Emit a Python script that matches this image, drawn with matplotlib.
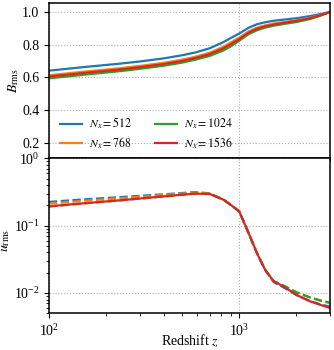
import matplotlib
matplotlib.use("Agg")
import matplotlib.pyplot as plt

plt.rcParams['font.family'] = ['Liberation Serif', 'DejaVu Serif']
plt.rcParams['mathtext.fontset'] = 'stix'
plt.rcParams['axes.linewidth'] = 1.1

labels = ["$N_x = 512$", "$N_x = 768$", "$N_x = 1024$", "$N_x = 1536$"]
colors = ["#1f77b4", "#ff7f0e", "#2ca02c", "#d62728"]

z = [100, 150, 236, 300, 400, 500, 587, 700, 827, 900, 1000, 1119, 1240,
     1370, 1517, 1711, 2012, 2364, 2700, 3000]

B_512 = [0.641, 0.662, 0.684, 0.697, 0.716, 0.735, 0.752, 0.778, 0.816, 0.840,
         0.868, 0.903, 0.925, 0.937, 0.946, 0.953, 0.962, 0.975, 0.988, 1.0]
B_768 = [0.613, 0.634, 0.656, 0.670, 0.689, 0.708, 0.726, 0.751, 0.788, 0.812,
         0.843, 0.881, 0.904, 0.918, 0.929, 0.938, 0.950, 0.965, 0.983, 1.0]
B_1024 = [0.594, 0.615, 0.638, 0.652, 0.671, 0.690, 0.708, 0.731, 0.765, 0.788,
          0.824, 0.864, 0.888, 0.904, 0.916, 0.926, 0.939, 0.957, 0.979, 1.0]
B_1536 = [0.605, 0.626, 0.648, 0.662, 0.681, 0.700, 0.718, 0.742, 0.778, 0.802,
          0.834, 0.873, 0.897, 0.912, 0.923, 0.933, 0.946, 0.962, 0.981, 1.0]

u_512 = [0.225, 0.245, 0.265, 0.277, 0.292, 0.305, 0.315, 0.302, 0.243, 0.205,
         0.163, 0.078, 0.039, 0.022, 0.0145, 0.0121, 0.0092, 0.0076, 0.0067, 0.0063]
u_768 = [0.212, 0.233, 0.255, 0.268, 0.285, 0.299, 0.310, 0.300, 0.243, 0.205,
         0.163, 0.078, 0.039, 0.022, 0.0150, 0.0128, 0.0101, 0.0085, 0.0076, 0.0071]
u_1024 = [0.192, 0.213, 0.237, 0.252, 0.271, 0.287, 0.299, 0.295, 0.243, 0.205,
          0.163, 0.078, 0.039, 0.022, 0.0150, 0.0129, 0.0102, 0.0086, 0.0077, 0.0072]
u_1536 = [0.194, 0.214, 0.238, 0.253, 0.272, 0.288, 0.299, 0.295, 0.243, 0.205,
          0.163, 0.078, 0.039, 0.022, 0.0149, 0.0125, 0.0093, 0.0075, 0.0066, 0.0060]

B_all = [B_512, B_768, B_1024, B_1536]
u_all = [u_512, u_768, u_1024, u_1536]
styles = ["--", "--", "--", "-"]

fig = plt.figure(figsize=(3.34, 3.5), dpi=100)
ax1 = fig.add_axes([0.1467, 0.5477, 0.988 - 0.1467, 0.9906 - 0.5477])
ax2 = fig.add_axes([0.1467, 0.1049, 0.988 - 0.1467, 0.5477 - 0.1049], sharex=ax1)

for B, c, lab in zip(B_all, colors, labels):
    ax1.plot(z, B, color=c, lw=1.6, label=lab)
for u, c, ls in zip(u_all, colors, styles):
    ax2.plot(z, u, color=c, lw=1.6, ls=ls)

ax1.set_xscale('log')
ax1.set_xlim(100, 3000)
ax1.set_ylim(0.105, 1.053)
ax1.set_yticks([0.2, 0.4, 0.6, 0.8, 1.0])
ax1.set_ylabel(r"$B_{\rm rms}$", fontsize=10)
ax1.yaxis.set_label_coords(-0.10, 0.5)
ax1.tick_params(labelbottom=False, labelsize=10)
ax1.grid(True, which='major', ls=':', color='#b0b0b0', lw=0.8)
ax1.legend(ncol=2, loc='lower left', frameon=False, fontsize=8.5,
           handlelength=1.9, handletextpad=0.6, labelspacing=0.35,
           columnspacing=1.9, bbox_to_anchor=(0.0, -0.02))

ax2.set_yscale('log')
ax2.set_ylim(0.005, 1.0)
ax2.set_xlabel(r"Redshift $z$", fontsize=10)
ax2.xaxis.set_label_coords(0.5, -0.125)
ax2.set_ylabel(r"$u_{\rm rms}$", fontsize=10)
ax2.yaxis.set_label_coords(-0.132, 0.47)
ax2.tick_params(labelsize=10)
ax2.grid(True, which='major', ls=':', color='#b0b0b0', lw=0.8)

fig.savefig("out.png", dpi=100)
